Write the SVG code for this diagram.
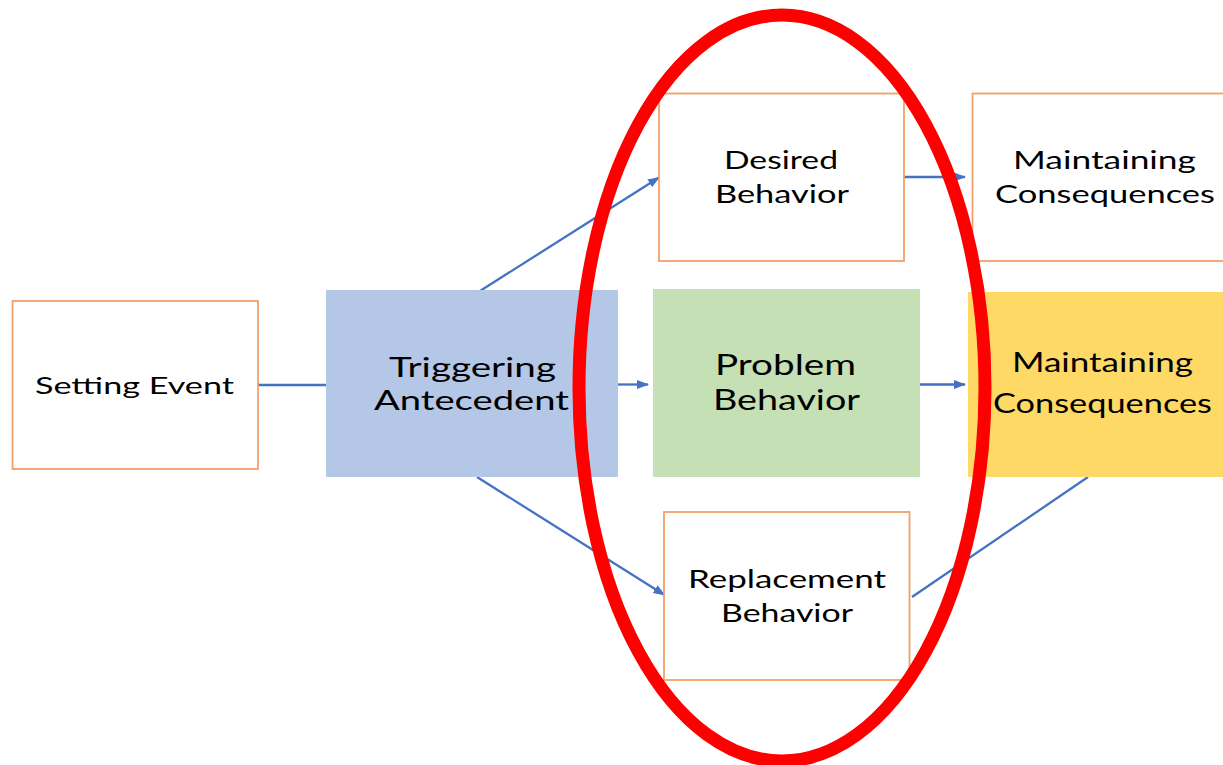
<svg xmlns="http://www.w3.org/2000/svg" width="1223" height="765" viewBox="0 0 1223 765">
  <style>
    .outline { fill: #ffffff; stroke: #F2A06A; stroke-width: 1.8; }
    .trigger { fill: #B4C7E7; }
    .problem { fill: #C5E0B4; }
    .consequence { fill: #FFD966; }
    .label { font-family: Lato, "Open Sans", "Liberation Sans", sans-serif; fill: #000000; }
    .conn { stroke: #4472C4; stroke-width: 2.3; fill: none; }
    .arrow { marker-end: url(#head); }
  </style>
  <defs>
    <marker id="head" viewBox="0 0 12 9" refX="11" refY="4.5" markerWidth="12" markerHeight="9" markerUnits="userSpaceOnUse" orient="auto">
      <path d="M0,0 L12,4.5 L0,9 z" fill="#4472C4"/>
    </marker>
  </defs>
  <rect width="1223" height="765" fill="#ffffff"/>

  <!-- connectors -->
  <g id="connectors">
    <line class="conn" x1="258" y1="385" x2="326" y2="385"/>
    <line class="conn arrow" x1="618" y1="384.5" x2="648" y2="384.5"/>
    <line class="conn arrow" x1="920" y1="384.5" x2="965" y2="384.5"/>
    <line class="conn arrow" x1="904" y1="177" x2="965" y2="177"/>
    <line class="conn arrow" x1="480" y1="291" x2="659" y2="177.5"/>
    <line class="conn arrow" x1="477" y1="477" x2="664.5" y2="595"/>
    <line class="conn" x1="912" y1="597" x2="1088" y2="477"/>
  </g>

  <!-- nodes -->
  <g id="setting-event">
    <rect class="outline" x="12.5" y="301" width="245.5" height="168"/>
    <text class="label" font-size="24" x="35" y="394" textLength="199" lengthAdjust="spacingAndGlyphs">Setting Event</text>
  </g>

  <g id="triggering-antecedent">
    <rect class="trigger" x="326" y="290" width="292" height="187"/>
    <text class="label" font-size="27" x="389" y="377" textLength="167" lengthAdjust="spacingAndGlyphs">Triggering</text>
    <text class="label" font-size="27" x="374" y="410" textLength="195" lengthAdjust="spacingAndGlyphs">Antecedent</text>
  </g>

  <g id="desired-behavior">
    <rect class="outline" x="659" y="93.5" width="245" height="167.5"/>
    <text class="label" font-size="25" x="724" y="169" textLength="114" lengthAdjust="spacingAndGlyphs">Desired</text>
    <text class="label" font-size="25" x="715" y="203" textLength="134" lengthAdjust="spacingAndGlyphs">Behavior</text>
  </g>

  <g id="problem-behavior">
    <rect class="problem" x="653" y="289" width="267" height="188"/>
    <text class="label" font-size="28" x="715" y="375" textLength="141" lengthAdjust="spacingAndGlyphs">Problem</text>
    <text class="label" font-size="28" x="713" y="410" textLength="147" lengthAdjust="spacingAndGlyphs">Behavior</text>
  </g>

  <g id="replacement-behavior">
    <rect class="outline" x="664" y="512" width="245.5" height="168"/>
    <text class="label" font-size="25" x="688" y="588" textLength="198" lengthAdjust="spacingAndGlyphs">Replacement</text>
    <text class="label" font-size="25" x="721" y="622" textLength="132" lengthAdjust="spacingAndGlyphs">Behavior</text>
  </g>

  <g id="consequences-desired">
    <rect class="outline" x="972.5" y="93.5" width="260" height="167.5"/>
    <text class="label" font-size="25" x="1013" y="169" textLength="183" lengthAdjust="spacingAndGlyphs">Maintaining</text>
    <text class="label" font-size="25" x="995" y="203" textLength="220" lengthAdjust="spacingAndGlyphs">Consequences</text>
  </g>

  <g id="consequences-problem">
    <rect class="consequence" x="968" y="292" width="260" height="185"/>
    <text class="label" font-size="26" x="1012" y="372" textLength="181" lengthAdjust="spacingAndGlyphs">Maintaining</text>
    <text class="label" font-size="26" x="993" y="413" textLength="219" lengthAdjust="spacingAndGlyphs">Consequences</text>
  </g>

  <!-- highlight ring around the behavior column -->
  <g id="behavior-highlight">
    <ellipse cx="782" cy="388" rx="203" ry="373" fill="none" stroke="#FF0000" stroke-width="13"/>
  </g>
</svg>
